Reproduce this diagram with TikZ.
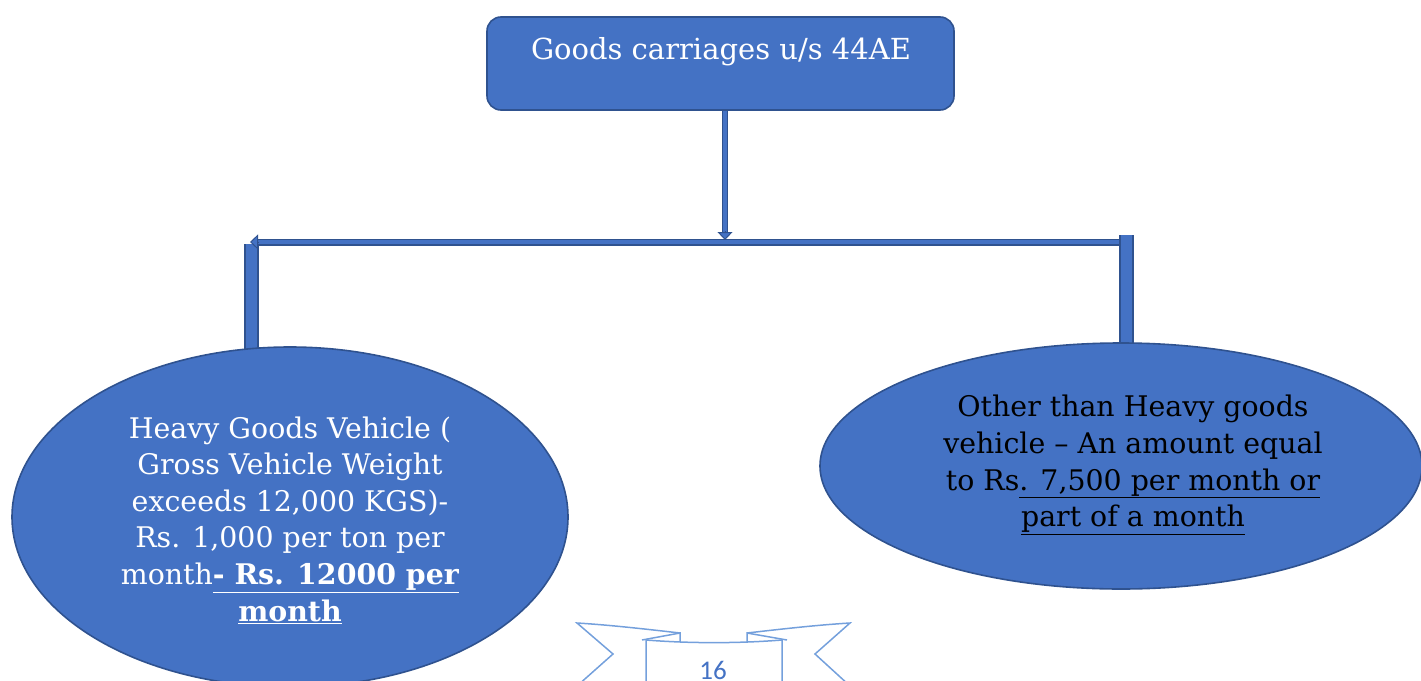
\documentclass[tikz,border=0pt]{standalone}
\usepackage{fontspec}
\setmainfont{DejaVu Serif}
\newfontfamily\carlitofont{Carlito}
\usetikzlibrary{arrows.meta,shapes.geometric}
\definecolor{mid}{RGB}{68,114,196}
\definecolor{dark}{RGB}{47,82,143}
\definecolor{ribbon}{RGB}{116,160,220}
\tikzset{
  topbox/.style={draw=dark, fill=mid, line width=1.6pt, rounded corners=14pt, minimum width=467pt, minimum height=93pt, inner sep=0pt},
  oval/.style={draw=dark, fill=mid, line width=1.6pt, ellipse, inner sep=0pt},
  txt/.style={align=center, inner sep=0pt, font=\fontsize{28.4}{36.6}\selectfont},
  vconn/.style={draw=dark, line width=1.3pt, double=mid, double distance=3.4pt},
  hconn/.style={draw=dark, line width=1.5pt, double=mid, double distance=4pt},
  sidebar/.style={draw=dark, line width=1.8pt, double=mid, double distance=11.4pt},
  tip/.style={-{Triangle[length=8pt,width=15pt,fill=mid]}, draw=dark, line width=1pt},
  rib/.style={draw=ribbon, line width=1.5pt, line join=miter}
}
\begin{document}
\begin{tikzpicture}[x=1pt,y=-1pt]
\useasboundingbox (0,0) rectangle (1421,680);
\clip (0,0) rectangle (1421,680);
% top box
\node[topbox] (top) at (720.5,63.5) {};
\node[txt, text=white, font=\fontsize{29}{36.6}\selectfont] (toptxt) at (721,52) {Goods carriages u/s 44AE};
% coordinates
\coordinate (jn) at (725,240);
\coordinate (hl) at (250,242);
\coordinate (hr) at (1119,242);
\coordinate (lbt) at (251.5,244);
\coordinate (rbt) at (1126.5,235);
\path (290,517) coordinate (lc);
\path (1121,466) coordinate (rc);
% connectors
\draw[vconn] (top.south -| jn) -- ([yshift=8pt]jn);
\draw[tip] ([yshift=9pt]jn) -- (jn);
\draw[hconn] (hr) -- ([xshift=8pt]hl);
\draw[sidebar] (lbt) -- (lbt |- 0,352);
\draw[sidebar] (rbt) -- (rbt |- 0,346);
\draw[tip] ([xshift=9pt]hl) -- (hl);
% ellipses
\node[oval, minimum width=556pt, minimum height=340pt] (lell) at (lc) {};
\node[oval, minimum width=602pt, minimum height=246pt] (rell) at (rc) {};
\node[txt, text=white] (ltxt) at (290,520) {Heavy Goods Vehicle (\\Gross Vehicle Weight\\exceeds 12,000 KGS)-\\Rs. 1,000 per ton per\\month\underline{\textbf{- Rs. 12000 per}}\\\underline{\textbf{month}}};
\node[txt, text=black] (rtxt) at (1133,465) {Other than Heavy goods\\vehicle – An amount equal\\to Rs\underline{. 7,500 per month or}\\\underline{part of a month}};
% ribbon (page number)
\draw[rib] (646,690) -- (646,640) .. controls (690,643.5) and (738,643.5) .. (782,640) -- (782,690);
\draw[rib] (680,642) -- (680,633) -- (642,640);
\draw[rib] (747,642) -- (747,633) -- (787,640);
\draw[rib] (680,633) .. controls (645,629) and (610,625) .. (577,623) -- (613,654) -- (577,686);
\draw[rib] (747,633) .. controls (782,629) and (817,625) .. (850,623) -- (815,654) -- (850,686);
\node[font=\carlitofont\fontsize{27}{30}\selectfont, text=mid, inner sep=0pt] (pg) at (713,670) {16};
\end{tikzpicture}
\end{document}
